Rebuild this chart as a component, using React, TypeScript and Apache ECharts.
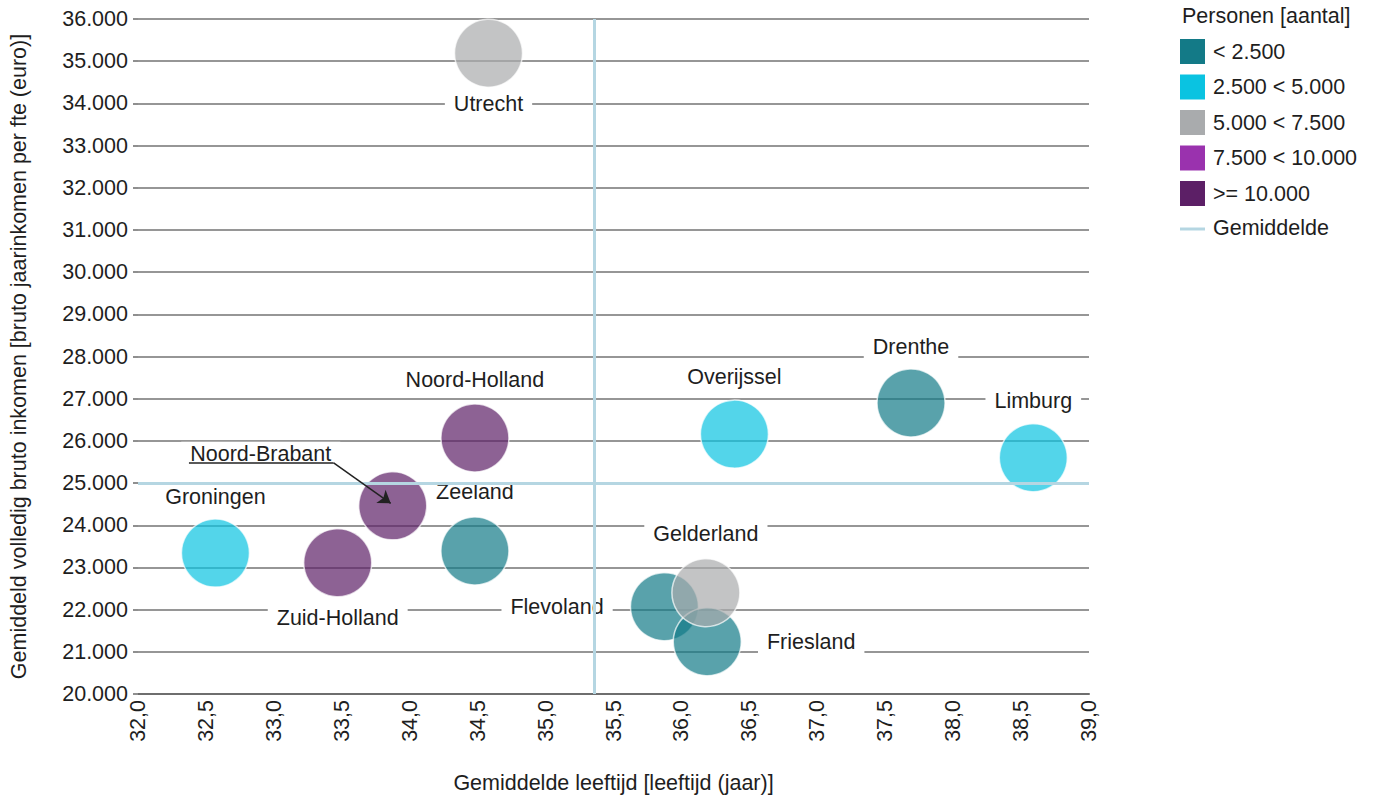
import React, { useEffect, useRef } from "react";
import * as echarts from "echarts";

// ---- data ----
const categories = ["< 2.500", "2.500 < 5.000", "5.000 < 7.500", "7.500 < 10.000", ">= 10.000"];
const categoryColors = ["#137a87", "#0ac3e1", "#a9abad", "#9a32ae", "#5c1f66"];
const averageLabel = "Gemiddelde";

const provinces = [
  "Utrecht", "Noord-Holland", "Noord-Brabant", "Zuid-Holland", "Groningen", "Zeeland",
  "Overijssel", "Drenthe", "Limburg", "Gelderland", "Flevoland", "Friesland",
];
const ageValues = [34.58, 34.48, 33.875, 33.47, 32.57, 34.48, 36.39, 37.69, 38.59, 36.18, 35.875, 36.19];
const incomeValues = [35190, 26070, 24460, 23110, 23340, 23390, 26160, 26900, 25600, 22400, 22070, 21240];
const provinceCategory = [2, 4, 4, 4, 1, 0, 1, 0, 1, 2, 0, 0];

const avgAge = 35.36;
const avgIncome = 25000;

// Noord-Brabant pointer (underline + arrow), in data coordinates
const pointerStart = [32.375, 25480];
const pointerBend = [33.44, 25480];
const pointerEnd = [33.86, 24520];

const xTicks = { min: 32, max: 39, interval: 0.5 };
const yTicks = { min: 20000, max: 36000, interval: 1000 };

// ---- styling ----
const FONT = "Liberation Sans";
const FS = 21.5;
const TXT = "#1e1e1e";
const AVG_COLOR = "#b5d6e2";
const BUBBLE_ALPHA = 0.7;

const labelPlacement: Record<string, any> = {
  Utrecht: { position: "bottom", distance: 4 },
  "Noord-Holland": { position: "top", distance: 11 },
  "Noord-Brabant": { position: "inside", offset: [-132, -52] },
  "Zuid-Holland": { position: "bottom", distance: 8 },
  Groningen: { position: "top", distance: 9 },
  Zeeland: { position: "top", distance: 12 },
  Overijssel: { position: "top", distance: 10 },
  Drenthe: { position: "top", distance: 9 },
  Limburg: { position: "top", distance: 10 },
  Gelderland: { position: "top", distance: 12 },
  Flevoland: { position: "left", distance: 17 },
  Friesland: { position: "right", distance: 16 },
};

const fmtThousands = (v: number) => String(Math.round(v)).replace(/\B(?=(\d{3})+(?!\d))/g, ".");

export default function App() {
  const ref = useRef<HTMLDivElement>(null);
  useEffect(() => {
    if (!ref.current) return;
    const chart = echarts.init(ref.current, null, { renderer: "svg" });

    const scatterSeries = categories.map((cat, ci) => ({
      name: cat,
      type: "scatter",
      z: 2,
      symbolSize: 68,
      itemStyle: { color: categoryColors[ci], opacity: BUBBLE_ALPHA, borderColor: "#ffffff", borderWidth: 1.5 },
      emphasis: { disabled: true },
      label: {
        show: true,
        formatter: "{b}",
        fontFamily: FONT,
        fontSize: FS,
        color: TXT,
        opacity: 1,
        backgroundColor: "#ffffff",
        padding: [1, 9],
      },
      data: provinces
        .map((p, i) => ({ p, i }))
        .filter(({ i }) => provinceCategory[i] === ci)
        .map(({ p, i }) => ({
          name: p,
          value: [ageValues[i], incomeValues[i]],
          label: { ...labelPlacement[p], opacity: 1 },
        })),
    }));

    const legendTop = 39;
    const itemH = 25;
    const itemGap = 10.5;
    const avgLegendY = 229;

    const option: any = {
      animation: false,
      textStyle: { fontFamily: FONT },
      grid: { left: 137, right: 286, top: 19, bottom: 107 },
      title: {
        text: "Personen [aantal]",
        left: 1182,
        top: 5,
        padding: 0,
        textStyle: { fontFamily: FONT, fontSize: FS, fontWeight: "normal", color: TXT },
      },
      legend: {
        orient: "vertical",
        left: 1180,
        top: legendTop,
        padding: 0,
        itemWidth: 25,
        itemHeight: itemH,
        itemGap: itemGap,
        selectedMode: false,
        textStyle: { fontFamily: FONT, fontSize: FS, color: TXT, padding: [0, 0, 0, 3] },
        data: categories.map((c, ci) => ({
          name: c,
          icon: "rect",
          itemStyle: { color: categoryColors[ci], borderWidth: 0, opacity: 1 },
        })),
      },
      graphic: [
        {
          type: "rect",
          left: 1180,
          top: avgLegendY - 1.5,
          shape: { width: 25, height: 3 },
          style: { fill: AVG_COLOR },
        },
        {
          type: "text",
          left: 1213,
          top: avgLegendY - 12,
          style: { text: averageLabel, fontFamily: FONT, fontSize: FS, fill: TXT },
        },
      ],
      xAxis: {
        type: "value",
        min: xTicks.min,
        max: xTicks.max,
        interval: xTicks.interval,
        name: "Gemiddelde leeftijd [leeftijd (jaar)]",
        nameLocation: "middle",
        nameGap: 78,
        nameTextStyle: { fontFamily: FONT, fontSize: FS, color: TXT },
        axisLine: { show: true, lineStyle: { color: "#6e6e6e", width: 2 } },
        axisTick: { show: false },
        splitLine: { show: false },
        axisLabel: {
          rotate: 90,
          margin: 6,
          fontFamily: FONT,
          fontSize: FS,
          color: TXT,
          formatter: (v: number) => v.toFixed(1).replace(".", ","),
        },
      },
      yAxis: {
        type: "value",
        min: yTicks.min,
        max: yTicks.max,
        interval: yTicks.interval,
        name: "Gemiddeld volledig bruto inkomen [bruto jaarinkomen per fte (euro)]",
        nameLocation: "middle",
        nameGap: 108,
        nameTextStyle: { fontFamily: FONT, fontSize: FS, color: TXT },
        axisLine: { show: false },
        axisTick: { show: true, length: 5, lineStyle: { color: "#8f8f8f", width: 2 } },
        splitLine: { show: true, lineStyle: { color: "#969696", width: 2 } },
        axisLabel: {
          margin: 10,
          fontFamily: FONT,
          fontSize: FS,
          color: TXT,
          formatter: (v: number) => fmtThousands(v),
        },
      },
      series: [
        ...scatterSeries,
        {
          name: averageLabel,
          type: "line",
          z: 3,
          data: [],
          symbol: "none",
          itemStyle: { color: AVG_COLOR },
          lineStyle: { color: AVG_COLOR, width: 3 },
          markLine: {
            silent: true,
            symbol: ["none", "none"],
            label: { show: false },
            emphasis: { disabled: true },
            lineStyle: { color: AVG_COLOR, width: 3, type: "solid" },
            data: [{ xAxis: avgAge }, { yAxis: avgIncome }],
          },
        },
        {
          name: "annot",
          type: "line",
          z: 5,
          data: [],
          symbol: "none",
          markLine: {
            silent: true,
            label: { show: false },
            emphasis: { disabled: true },
            lineStyle: { color: "#222", width: 1.5, type: "solid" },
            data: [
              [
                { coord: pointerStart, symbol: "none" },
                { coord: pointerBend, symbol: "none" },
              ],
              [
                { coord: pointerBend, symbol: "none" },
                { coord: pointerEnd, symbol: "arrow", symbolSize: 12 },
              ],
            ],
          },
        },
      ],
    };
    chart.setOption(option);
    return () => chart.dispose();
  }, []);
  return <div ref={ref} style={{ position: "absolute", left: 0, top: 0, width: 1375, height: 801, background: "#fff" }} />;
}
